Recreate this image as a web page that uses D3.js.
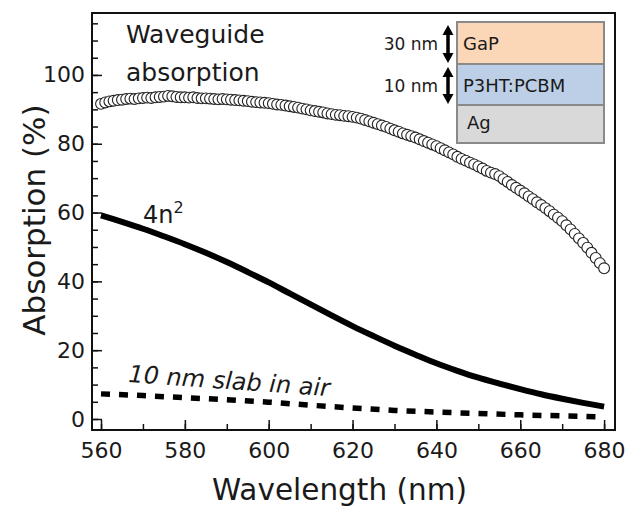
<!DOCTYPE html>
<html>
<head>
<meta charset="utf-8">
<script src="https://cdn.jsdelivr.net/npm/d3@7"></script>
<style>
  body { margin: 0; background: #fff; }
  svg text { font-family: "DejaVu Sans", sans-serif; fill: #1a1a1a; }
</style>
</head>
<body>
<div id="chart"></div>
<script>
// 波長 (nm), 1 nm刻み
const wlStart = 560;
// 導波路吸収 (%) 560..680 nm
const waveguide = [
  91.6, 92.0, 92.3, 92.5, 92.7,
  92.8, 93.0, 93.1, 93.0, 93.2,
  93.3, 93.4, 93.3, 93.5, 93.6,
  93.7, 93.9, 93.8, 93.6, 93.5,
  93.5, 93.4, 93.5, 93.3, 93.2,
  93.2, 93.1, 93.0, 92.9, 93.0,
  92.9, 92.8, 92.7, 92.6, 92.5,
  92.4, 92.2, 92.1, 92.0, 91.9,
  91.8, 91.6, 91.4, 91.3, 91.1,
  90.9, 90.7, 90.5, 90.2, 90.0,
  89.7, 89.5, 89.3, 89.1, 88.8,
  88.6, 88.4, 88.3, 88.1, 88.0,
  87.8, 87.6, 87.3, 86.9, 86.5,
  86.1, 85.7, 85.3, 84.9, 84.4,
  83.9, 83.5, 83.0, 82.6, 82.2,
  81.8, 81.3, 80.8, 80.3, 79.8,
  79.3, 78.7, 78.1, 77.5, 76.9,
  76.2, 75.6, 75.1, 74.5, 74.0,
  73.4, 72.8, 72.1, 71.6, 71.2,
  70.6, 69.7, 68.9, 68.0, 67.2,
  66.4, 65.6, 64.7, 63.9, 63.0,
  62.2, 61.3, 60.4, 59.4, 58.5,
  57.5, 56.3, 55.1, 53.8, 52.5,
  51.2, 49.8, 48.3, 46.8, 45.3,
  43.8
];

// 4n^2 限界 (5 nm刻み)
const fourN2Wl = [560, 565, 570, 575, 580, 585, 590, 595, 600, 605, 610, 615, 620,
                  625, 630, 635, 640, 645, 650, 655, 660, 665, 670, 675, 680];
const fourN2 = [59.2, 57.3, 55.3, 53.1, 50.8, 48.3, 45.6, 42.7, 39.7, 36.5, 33.3, 30.1, 27.0,
                24.1, 21.3, 18.7, 16.2, 14.0, 12.0, 10.3, 8.7, 7.2, 5.9, 4.7, 3.6];

// 空気中の10 nmスラブ (10 nm刻み)
const slabWl = [560, 570, 580, 590, 600, 610, 620, 630, 640, 650, 660, 670, 680];
const slab = [7.3, 6.8, 6.2, 5.6, 4.9, 4.0, 3.2, 2.5, 2.0, 1.6, 1.2, 0.9, 0.6];

const xTicks = [560, 580, 600, 620, 640, 660, 680];
const yTicks = [0, 20, 40, 60, 80, 100];

// 挿入図の層構造
const layers = ["GaP", "P3HT:PCBM", "Ag"];
const layerColors = ["#fbd6b7", "#bccfe6", "#d9d9d9"];
const thickLabels = ["30 nm", "10 nm"];

const W = 636, H = 509;
const margin = {left: 92, top: 13, right: 21, bottom: 79};
const iw = W - margin.left - margin.right;
const ih = H - margin.top - margin.bottom;

const svg = d3.select("#chart").append("svg")
    .attr("width", W)
    .attr("height", H);

const x = d3.scaleLinear().domain([557.85, 682.6]).range([0, iw]);
const y = d3.scaleLinear().domain([-3.2, 118.0]).range([ih, 0]);

const g = svg.append("g").attr("transform", `translate(${margin.left},${margin.top})`);

// 軸 (内向きの目盛)
const xMinor = d3.range(560, 681, 10);
const yMinor = d3.range(0, 116, 5);

g.append("g")
    .attr("transform", `translate(0,${ih})`)
    .call(d3.axisBottom(x).tickValues(xMinor).tickSize(-6).tickFormat(""))
    .call(a => a.select(".domain").remove());
g.append("g")
    .attr("transform", `translate(0,${ih})`)
    .call(d3.axisBottom(x).tickValues(xTicks).tickSize(-10).tickPadding(12).tickFormat(d3.format("d")))
    .call(a => a.select(".domain").remove())
    .call(a => a.selectAll("text").attr("font-size", 22).attr("font-family", "DejaVu Sans").attr("fill", "#1a1a1a"));

g.append("g")
    .call(d3.axisLeft(y).tickValues(yMinor).tickSize(-6).tickFormat(""))
    .call(a => a.select(".domain").remove());
g.append("g")
    .call(d3.axisLeft(y).tickValues(yTicks).tickSize(-10).tickPadding(7).tickFormat(d3.format("d")))
    .call(a => a.select(".domain").remove())
    .call(a => a.selectAll("text").attr("font-size", 22).attr("font-family", "DejaVu Sans").attr("fill", "#1a1a1a"));

g.selectAll(".tick line").attr("stroke", "#111").attr("stroke-width", 1.5);

// 枠
g.append("rect")
    .attr("width", iw).attr("height", ih)
    .attr("fill", "none").attr("stroke", "#111").attr("stroke-width", 2);

// 10 nm slab (破線)
g.append("path")
    .datum(slabWl.map((w, i) => [w, slab[i]]))
    .attr("fill", "none")
    .attr("stroke", "#000")
    .attr("stroke-width", 5.5)
    .attr("stroke-dasharray", "9,9")
    .attr("d", d3.line().x(d => x(d[0])).y(d => y(d[1])));

// 4n^2 (実線)
g.append("path")
    .datum(fourN2Wl.map((w, i) => [w, fourN2[i]]))
    .attr("fill", "none")
    .attr("stroke", "#000")
    .attr("stroke-width", 6)
    .attr("d", d3.line().curve(d3.curveCatmullRom).x(d => x(d[0])).y(d => y(d[1])));

// 導波路吸収 (白丸)
g.selectAll("circle.wg")
    .data(waveguide)
    .enter().append("circle")
    .attr("class", "wg")
    .attr("cx", (d, i) => x(wlStart + i))
    .attr("cy", d => y(d))
    .attr("r", 5.4)
    .attr("fill", "#fff")
    .attr("stroke", "#222")
    .attr("stroke-width", 1.1);

// 注釈
const wgText = g.append("text").attr("font-size", 25);
wgText.append("tspan").attr("x", 34).attr("y", 30).text("Waveguide");
wgText.append("tspan").attr("x", 34).attr("y", 68).text("absorption");

const n2 = g.append("text").attr("x", 51).attr("y", 210).attr("font-size", 24);
n2.append("tspan").text("4n");
n2.append("tspan").attr("font-size", 16).attr("dy", -10).text("2");

g.append("text")
    .attr("transform", "translate(36,369) rotate(4)")
    .attr("font-size", 24)
    .attr("font-style", "italic")
    .text("10 nm slab in air");

// 軸ラベル
svg.append("text")
    .attr("x", margin.left + iw / 2 - 14)
    .attr("y", 500)
    .attr("text-anchor", "middle")
    .attr("font-size", 29.5)
    .text("Wavelength (nm)");

svg.append("text")
    .attr("transform", "translate(45,220) rotate(-90)")
    .attr("text-anchor", "middle")
    .attr("font-size", 31)
    .text("Absorption (%)");

// 挿入図
const inset = svg.append("g").attr("transform", "translate(457,22)");
const boxW = 147;
const boxH = [42, 41, 38];
let yy = 0;
layers.forEach((name, i) => {
    inset.append("rect")
        .attr("x", 0).attr("y", yy)
        .attr("width", boxW).attr("height", boxH[i])
        .attr("fill", layerColors[i])
        .attr("stroke", "#8a8a8a")
        .attr("stroke-width", 2);
    inset.append("text")
        .attr("x", name === "Ag" ? 10 : 6)
        .attr("y", yy + (i === 2 ? 24 : 28))
        .attr("font-size", 18)
        .text(name);
    if (i < thickLabels.length) {
        const top = yy + 3, bot = yy + boxH[i] - 1;
        const ax = -9;
        inset.append("line")
            .attr("x1", ax).attr("x2", ax)
            .attr("y1", top + 8).attr("y2", bot - 8)
            .attr("stroke", "#000").attr("stroke-width", 3.5);
        inset.append("path")
            .attr("d", `M${ax - 5.5},${top + 10}L${ax},${top}L${ax + 5.5},${top + 10}Z`)
            .attr("fill", "#000");
        inset.append("path")
            .attr("d", `M${ax - 5.5},${bot - 10}L${ax},${bot}L${ax + 5.5},${bot - 10}Z`)
            .attr("fill", "#000");
        inset.append("text")
            .attr("x", -19)
            .attr("y", yy + 28)
            .attr("text-anchor", "end")
            .attr("font-size", 17)
            .text(thickLabels[i]);
    }
    yy += boxH[i];
});
</script>
</body>
</html>
